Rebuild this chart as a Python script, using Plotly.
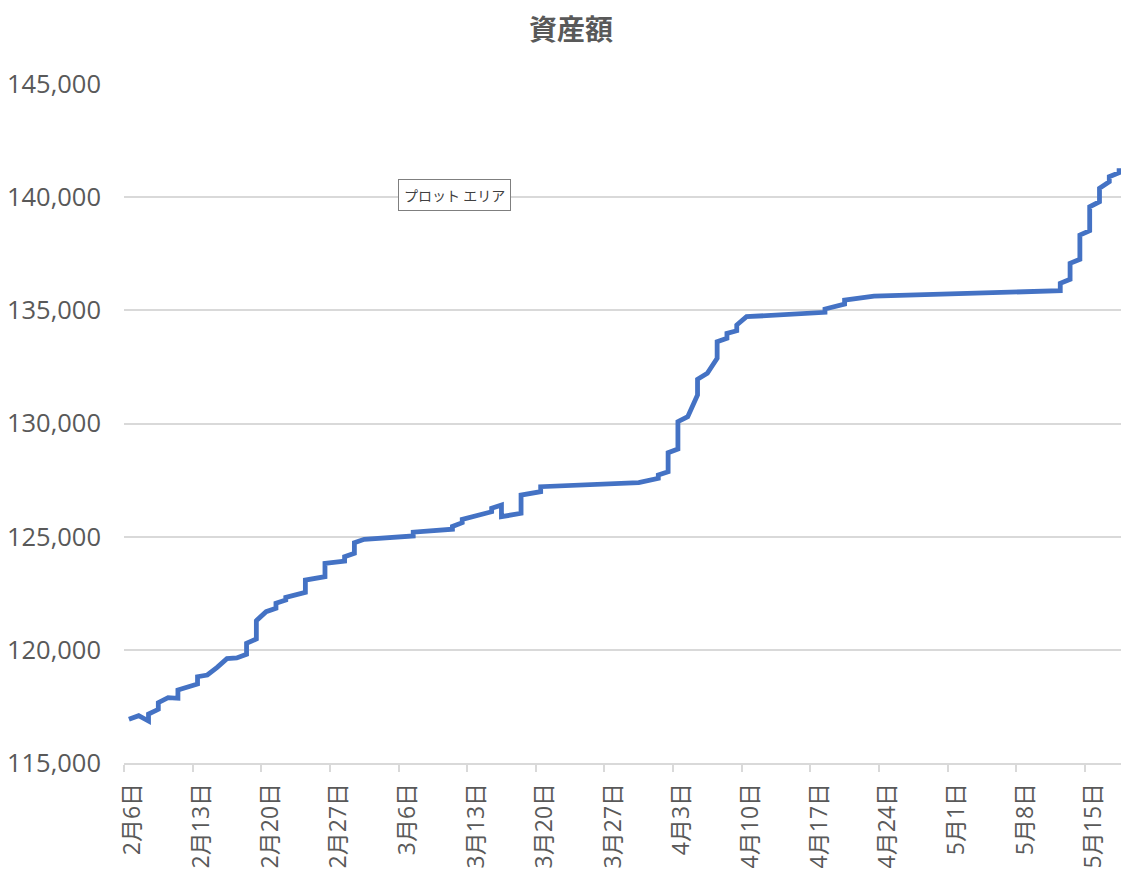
import pandas as pd
import plotly.graph_objects as go

# 日付（同じ日に2つの値がある日は2回並べる）
dates = [
    '2021-02-06', '2021-02-07', '2021-02-08', '2021-02-08', '2021-02-09', '2021-02-09',
    '2021-02-10', '2021-02-11', '2021-02-11', '2021-02-12', '2021-02-13', '2021-02-13',
    '2021-02-14', '2021-02-15', '2021-02-16', '2021-02-17', '2021-02-18', '2021-02-18',
    '2021-02-19', '2021-02-19', '2021-02-20', '2021-02-21', '2021-02-21', '2021-02-22',
    '2021-02-22', '2021-02-24', '2021-02-24', '2021-02-26', '2021-02-26', '2021-02-28',
    '2021-02-28', '2021-03-01', '2021-03-01', '2021-03-02', '2021-03-07', '2021-03-07',
    '2021-03-11', '2021-03-11', '2021-03-12', '2021-03-12', '2021-03-13', '2021-03-15',
    '2021-03-15', '2021-03-16', '2021-03-16', '2021-03-18', '2021-03-18', '2021-03-20',
    '2021-03-20', '2021-03-30', '2021-04-01', '2021-04-01', '2021-04-02', '2021-04-02',
    '2021-04-03', '2021-04-03', '2021-04-04', '2021-04-05', '2021-04-05', '2021-04-06',
    '2021-04-07', '2021-04-07', '2021-04-08', '2021-04-08', '2021-04-09', '2021-04-09',
    '2021-04-10', '2021-04-18', '2021-04-18', '2021-04-20', '2021-04-20', '2021-04-23',
    '2021-05-12', '2021-05-12', '2021-05-13', '2021-05-13', '2021-05-14', '2021-05-14',
    '2021-05-15', '2021-05-15', '2021-05-16', '2021-05-16', '2021-05-17', '2021-05-17',
    '2021-05-18', '2021-05-18',
]
assets = [
    116930, 117090, 116856, 117165, 117372, 117664,
    117885, 117858, 118225, 118344, 118490, 118813,
    118888, 119228, 119608, 119639, 119802, 120288,
    120478, 121287, 121684, 121835, 122056, 122201,
    122321, 122541, 123085, 123231, 123823, 123924,
    124114, 124264, 124733, 124883, 125030, 125200,
    125330, 125450, 125617, 125767, 125883, 126103,
    126253, 126398, 125883, 126032, 126840, 126986,
    127207, 127384, 127578, 127724, 127870, 128709,
    128873, 130079, 130300, 131258, 131952, 132217,
    132880, 133613, 133763, 133984, 134100, 134351,
    134718, 134912, 135058, 135279, 135455, 135632,
    135866, 136192, 136370, 137077, 137254, 138327,
    138517, 139577, 139798, 140390, 140682, 140903,
    141080, 141274,
]

tick_dates = ['2021-02-06', '2021-02-13', '2021-02-20', '2021-02-27', '2021-03-06',
              '2021-03-13', '2021-03-20', '2021-03-27', '2021-04-03', '2021-04-10',
              '2021-04-17', '2021-04-24', '2021-05-01', '2021-05-08', '2021-05-15']
tick_labels = ['2月6日', '2月13日', '2月20日', '2月27日', '3月6日',
               '3月13日', '3月20日', '3月27日', '4月3日', '4月10日',
               '4月17日', '4月24日', '5月1日', '5月8日', '5月15日']

# Excelの日付軸と同じく、各日の点は日の真ん中に置く
x_points = pd.to_datetime(dates) + pd.Timedelta(hours=12)

gray_text = '#595959'
font_jp = 'Open Sans, Noto Sans CJK JP'

fig = go.Figure()
fig.add_trace(go.Scatter(x=x_points, y=assets, mode='lines',
                         line=dict(color='#4472C4', width=4.8),
                         showlegend=False))

# ページの body に 8px の余白があるので、その分だけ小さくする
fig.update_layout(
    width=1121, height=865,
    margin=dict(l=116, r=5, t=76, b=110),
    plot_bgcolor='white', paper_bgcolor='white',
    title=dict(text='<b>資産額</b>', xref='container', x=563 / 1121, xanchor='center',
               yref='container', y=1 - 22 / 865, yanchor='middle',
               font=dict(family='Noto Sans CJK JP', size=28, color=gray_text)),
)
fig.update_xaxes(type='date', range=['2021-02-06', '2021-05-19'], automargin=False,
                 tickvals=tick_dates, ticktext=tick_labels, tickangle=-90,
                 ticks='outside', ticklen=7, tickcolor='#d9d9d9', tickwidth=1.5,
                 showline=True, linecolor='#d9d9d9', linewidth=1.5, showgrid=False,
                 ticklabelshift=9, ticklabelstandoff=2,
                 tickfont=dict(family=font_jp, size=23, color=gray_text))
fig.update_yaxes(range=[115000, 145000], dtick=5000, tickformat=',', automargin=False,
                 showgrid=True, gridcolor='#d9d9d9', gridwidth=1.5,
                 showline=False, zeroline=False, ticklabelstandoff=22,
                 tickfont=dict(family='Open Sans', size=25.5, color=gray_text))

fig.add_annotation(text='プロット エリア', xref='paper', yref='paper', x=0.33, y=0.8365,
                   xanchor='center', yanchor='middle',
                   showarrow=False, bgcolor='white', bordercolor='#7f7f7f',
                   borderwidth=1, borderpad=5,
                   font=dict(family='Noto Sans CJK JP', size=14, color='#404040'))

fig.write_html('out.html')
